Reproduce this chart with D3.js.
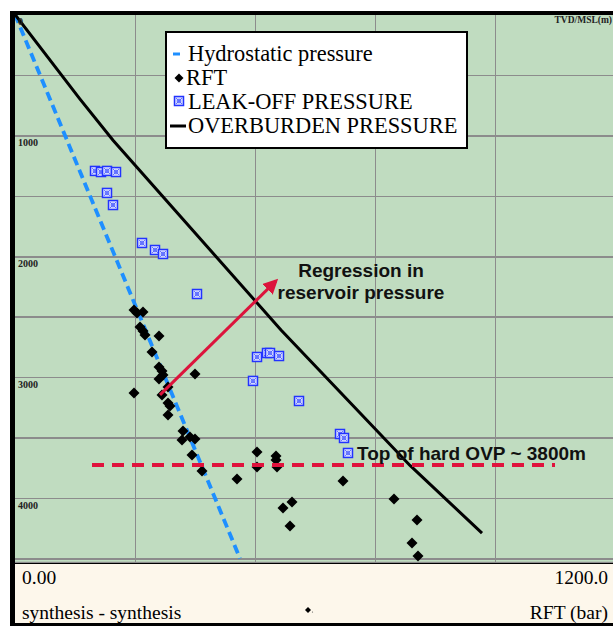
<!DOCTYPE html>
<html>
<head>
<meta charset="utf-8">
<script src="https://d3js.org/d3.v7.min.js"></script>
<style>
body { margin: 0; background: #fff; }
.grid line { stroke: #8c8c8c; stroke-width: 1.5; shape-rendering: crispEdges; }
.grid path { stroke-width: 0; }
.ylab text { font-family: "Liberation Serif", serif; font-weight: bold; font-size: 10px; fill: #222; }
.ylab path, .ylab line { display: none; }
</style>
</head>
<body>
<svg id="chart" width="613" height="626"></svg>
<script>
// RFT measurements (bar, m TVD)
var rftPressure = [238, 244, 256, 250, 256, 260, 288, 274, 288, 294, 296, 288, 360, 238, 294, 306,
                   306, 310, 306, 336, 334, 350, 360, 354, 374, 444, 484, 484, 522, 522, 524, 656,
                   554, 536, 550, 758, 804, 794, 806];
var rftDepth = [2444, 2469, 2461, 2585, 2618, 2651, 2659, 2792, 2916, 2949, 2982, 3015, 2974, 3131, 3147, 3081,
                3213, 3238, 3313, 3445, 3519, 3495, 3511, 3643, 3776, 3842, 3619, 3743, 3652, 3685, 3743, 3859,
                4032, 4082, 4231, 4007, 4181, 4371, 4479];
// leak-off tests
var leakPressure = [160, 172, 184, 202, 184, 196, 254, 280, 296, 364, 484, 504, 510, 528, 476, 568, 650, 658, 666];
var leakDepth = [1294, 1303, 1294, 1303, 1476, 1576, 1890, 1948, 1981, 2312, 2833, 2800, 2800, 2825, 3031, 3197, 3470, 3503, 3627];
// trend lines
var hydroDepth = [0, 4500];
var hydroPressure = [0, 450];
var overDepth = [0, 700, 1040, 2610, 3730, 4290];
var overPressure = [0, 130, 196, 532, 790, 934];
// annotations
var ovpDepth = 3726, ovpFrom = 154, ovpTo = 1080;
var arrowFrom = [290, 3147], arrowTo = [522, 2204];
var depthTicks = [0, 1000, 2000, 3000, 4000];
var depthGrid = [500, 1000, 1500, 2000, 2500, 3000, 3500, 4000, 4500];
var pressureGrid = [240, 480, 720, 960];
var xEndLabels = ["0.00", "1200.0"];
var legendItems = ["Hydrostatic pressure", "RFT", "LEAK-OFF PRESSURE", "OVERBURDEN PRESSURE"];

var svg = d3.select("#chart");
var pLeft = 15, pTop = 15, pRight = 613, pBottom = 563;

var x = d3.scaleLinear().domain([0, 1200]).range([15, 615]);
var y = d3.scaleLinear().domain([0, 4500]).range([14.5, 558.5]);

// frame
svg.append("rect").attr("x", 10).attr("y", 11).attr("width", 610).attr("height", 615).attr("fill", "#000");
svg.append("rect").attr("x", pLeft).attr("y", pTop).attr("width", pRight - pLeft).attr("height", pBottom - pTop)
   .attr("fill", "#c0dcc0");
svg.append("rect").attr("x", pLeft).attr("y", pBottom + 1).attr("width", pRight - pLeft).attr("height", 59)
   .attr("fill", "#fdf7eb");

svg.append("clipPath").attr("id", "plotclip").append("rect")
   .attr("x", pLeft).attr("y", pTop).attr("width", pRight - pLeft).attr("height", pBottom - pTop);
var plot = svg.append("g").attr("clip-path", "url(#plotclip)");

// grid lines
plot.append("g").attr("class", "grid")
   .attr("transform", "translate(0," + pBottom + ")")
   .call(d3.axisBottom(x).tickValues(pressureGrid).tickSize(-(pBottom - pTop)).tickFormat(""));
plot.append("g").attr("class", "grid")
   .attr("transform", "translate(" + pLeft + ",0)")
   .call(d3.axisRight(y).tickValues(depthGrid).tickSize(pRight - pLeft).tickFormat(""));
plot.append("line").attr("x1", pLeft).attr("x2", pRight).attr("y1", pBottom - 0.5).attr("y2", pBottom - 0.5)
   .attr("stroke", "#8c8c8c").attr("stroke-width", 1.5);

// depth labels
var yl = svg.append("g").attr("class", "ylab").attr("transform", "translate(" + (pLeft + 2) + ",0)")
   .call(d3.axisRight(y).tickValues(depthTicks).tickSize(0).tickPadding(1).tickFormat(d3.format("d")));
yl.selectAll("text").attr("dy", "1.0em");
svg.append("text").attr("x", 612).attr("y", 23).attr("text-anchor", "end")
   .attr("font-family", "Liberation Serif, serif").attr("font-weight", "bold").attr("font-size", "9.5px")
   .attr("fill", "#222").text("TVD/MSL(m)");

// trend lines
var line = d3.line().x(function(d) { return x(d[0]); }).y(function(d) { return y(d[1]); });
plot.append("path").datum(hydroDepth.map(function(d, i) { return [hydroPressure[i], d]; }))
   .attr("d", line).attr("fill", "none").attr("stroke", "#1e8fff").attr("stroke-width", 3.8)
   .attr("stroke-dasharray", "9,5");
plot.append("path").datum(overDepth.map(function(d, i) { return [overPressure[i], d]; }))
   .attr("d", line).attr("fill", "none").attr("stroke", "#000").attr("stroke-width", 3);

// leak-off squares
function leakMark(g, cx, cy) {
  g.append("rect").attr("x", cx - 4.5).attr("y", cy - 4.5).attr("width", 9).attr("height", 9)
    .attr("fill", "#d6dcff").attr("stroke", "#2233ff").attr("stroke-width", 1.5);
  g.append("path").attr("d", "M" + (cx - 3) + "," + (cy - 3) + "L" + (cx + 3) + "," + (cy + 3) +
      "M" + (cx + 3) + "," + (cy - 3) + "L" + (cx - 3) + "," + (cy + 3))
    .attr("stroke", "#4455ff").attr("stroke-width", 0.8);
  g.append("circle").attr("cx", cx).attr("cy", cy).attr("r", 1.8).attr("fill", "none")
    .attr("stroke", "#4455ff").attr("stroke-width", 0.8);
}
var leakG = plot.append("g");
leakPressure.forEach(function(p, i) { leakMark(leakG, x(p), y(leakDepth[i])); });

// RFT diamonds
function diamond(cx, cy, r) {
  return "M" + cx + "," + (cy - r) + "L" + (cx + r) + "," + cy + "L" + cx + "," + (cy + r) + "L" + (cx - r) + "," + cy + "Z";
}
plot.selectAll(".rft").data(rftPressure).enter().append("path")
   .attr("class", "rft")
   .attr("d", function(p, i) { return diamond(x(p), y(rftDepth[i]), 5.5); })
   .attr("fill", "#000");

// top of hard overpressure
plot.append("line").attr("x1", x(ovpFrom)).attr("x2", x(ovpTo)).attr("y1", y(ovpDepth)).attr("y2", y(ovpDepth))
   .attr("stroke", "#e0123c").attr("stroke-width", 4).attr("stroke-dasharray", "12,8");
svg.append("text").attr("x", 357).attr("y", 460)
   .attr("font-family", "Liberation Sans, Arial, sans-serif").attr("font-weight", "bold").attr("font-size", "19px")
   .attr("fill", "#111").text("Top of hard OVP ~ 3800m");

// regression arrow
svg.append("defs").append("marker").attr("id", "ahead")
   .attr("viewBox", "0 0 10 10").attr("refX", 8).attr("refY", 5)
   .attr("markerWidth", 5).attr("markerHeight", 5).attr("orient", "auto")
   .append("path").attr("d", "M0,0L10,5L0,10Z").attr("fill", "#dc143c");
plot.append("line").attr("x1", x(arrowFrom[0])).attr("y1", y(arrowFrom[1]))
   .attr("x2", x(arrowTo[0])).attr("y2", y(arrowTo[1]))
   .attr("stroke", "#dc143c").attr("stroke-width", 3).attr("marker-end", "url(#ahead)");
var reg = svg.append("text").attr("text-anchor", "middle")
   .attr("font-family", "Liberation Sans, Arial, sans-serif").attr("font-weight", "bold").attr("font-size", "19px")
   .attr("fill", "#111");
reg.append("tspan").attr("x", 361).attr("y", 277).text("Regression in");
reg.append("tspan").attr("x", 361).attr("y", 299).text("reservoir pressure");

// legend
var serif = "'Liberation Serif', 'Times New Roman', serif";
var lg = svg.append("g");
lg.append("rect").attr("x", 166).attr("y", 32).attr("width", 301).attr("height", 116)
   .attr("fill", "#fff").attr("stroke", "#000").attr("stroke-width", 2);
lg.selectAll(".lt").data(legendItems).enter().append("text")
   .attr("x", function(d, i) { return i == 1 ? 186 : 188; })
   .attr("y", function(d, i) { return 61 + i * 24; })
   .attr("font-family", serif).attr("font-size", "22.4px")
   .attr("fill", "#000").text(function(d) { return d; });
lg.append("line").attr("x1", 173).attr("x2", 180).attr("y1", 54).attr("y2", 54)
   .attr("stroke", "#1e8fff").attr("stroke-width", 3);
lg.append("path").attr("d", diamond(179, 78, 4.5)).attr("fill", "#000");
leakMark(lg, 179, 101);
lg.append("line").attr("x1", 170).attr("x2", 186).attr("y1", 126).attr("y2", 126)
   .attr("stroke", "#000").attr("stroke-width", 3);

// bottom strip
svg.append("text").attr("x", 22).attr("y", 584).attr("font-family", serif).attr("font-size", "19.5px").text(xEndLabels[0]);
svg.append("text").attr("x", 608).attr("y", 584).attr("text-anchor", "end").attr("font-family", serif)
   .attr("font-size", "19.5px").text(xEndLabels[1]);
svg.append("text").attr("x", 22).attr("y", 619).attr("font-family", serif).attr("font-size", "19.5px").text("synthesis - synthesis");
svg.append("text").attr("x", 608).attr("y", 619).attr("text-anchor", "end").attr("font-family", serif)
   .attr("font-size", "19.5px").text("RFT (bar)");
svg.append("path").attr("d", diamond(308, 610, 3)).attr("fill", "#000");
svg.append("circle").attr("cx", 312.5).attr("cy", 612).attr("r", 0.6).attr("fill", "#555");
</script>
</body>
</html>
